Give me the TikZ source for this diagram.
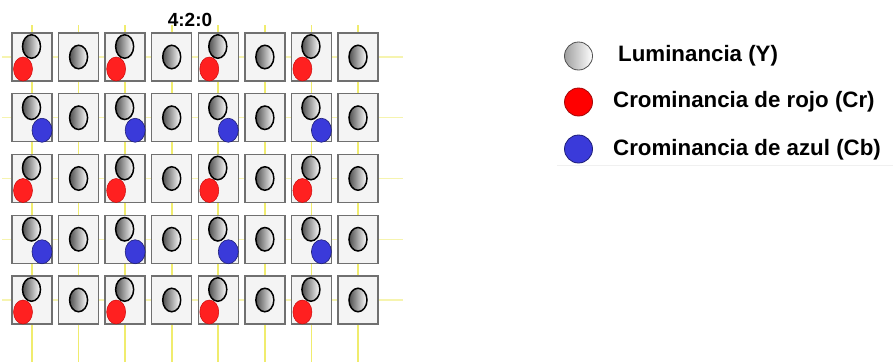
\documentclass[tikz,border=0pt]{standalone}
\usepackage{fontspec}
\setmainfont{Liberation Sans}
\usetikzlibrary{shapes.geometric}
\definecolor{vline}{RGB}{240,236,110}
\definecolor{hline}{RGB}{246,244,175}
\definecolor{boxfill}{RGB}{244,244,244}
\definecolor{boxdraw}{RGB}{112,112,112}
\definecolor{crfill}{RGB}{255,32,32}
\definecolor{crdraw}{RGB}{205,10,10}
\definecolor{cbfill}{RGB}{58,58,218}
\definecolor{cbdraw}{RGB}{30,30,120}
\definecolor{lumdark}{RGB}{80,80,80}
\tikzset{
  cellbox/.style={draw=boxdraw, fill=boxfill, line width=1.4pt, minimum width=40pt, minimum height=48pt, inner sep=0pt},
  lum/.style={ellipse, draw=black, line width=1.5pt, left color=lumdark, right color=white, minimum width=18pt, minimum height=23.5pt, inner sep=0pt},
  crdot/.style={ellipse, draw=crdraw, line width=0.5pt, fill=crfill, minimum width=19pt, minimum height=24pt, inner sep=0pt},
  cbdot/.style={ellipse, draw=cbdraw, line width=0.6pt, fill=cbfill, minimum width=20pt, minimum height=24pt, inner sep=0pt},
  legtext/.style={anchor=base west, inner sep=0pt, font=\bfseries\fontsize{22.3}{26}\selectfont},
  vgrid/.style={draw=vline, line width=1.8pt},
  hgrid/.style={draw=hline, line width=1.3pt}
}
\begin{document}
\begin{tikzpicture}[x=1pt, y=-1pt]
\useasboundingbox (0,0) rectangle (893,362);
% yellow grid lines
\foreach \c in {0,...,7} {
  \draw[vgrid] ({32+46.57*\c},25) -- ({32+46.57*\c},362);
}
\foreach \r in {0,...,4} {
  \draw[hgrid] (2,{57+60.75*\r}) -- (403,{57+60.75*\r});
}
% cells
\foreach \r in {0,...,4} {
  \foreach \c in {0,...,7} {
    \node[cellbox] (box-\r-\c) at ({32+46.57*\c},{57+60.75*\r}) {};
  }
}
% luminance and chroma samples
\foreach \r in {0,...,4} {
  \foreach \c in {1,3,5,7} {
    \node[lum] (y-\r-\c) at (box-\r-\c.center) {};
  }
}
\foreach \r in {0,2,4} {
  \foreach \c in {0,2,4,6} {
    \node[crdot] (cr-\r-\c) at ([xshift=-9pt,yshift=-12pt]box-\r-\c.center) {};
    \node[lum] (y-\r-\c) at ([xshift=-0.5pt,yshift=10.5pt]box-\r-\c.center) {};
  }
}
\foreach \r in {1,3} {
  \foreach \c in {0,2,4,6} {
    \node[lum] (y-\r-\c) at ([xshift=-0.5pt,yshift=10pt]box-\r-\c.center) {};
    \node[cbdot] (cb-\r-\c) at ([xshift=10pt,yshift=-12.5pt]box-\r-\c.center) {};
  }
}
% title
\node[anchor=base, inner sep=0pt, font=\bfseries\fontsize{19}{22}\selectfont] (title) at (190,26) {4:2:0};
% legend
\node[circle, draw=lumdark, line width=0.8pt, left color=gray!75, right color=white, minimum size=28pt, inner sep=0pt] (legY) at (578.5,56) {};
\node[circle, draw=crdraw!80!black, line width=0.8pt, fill=red, minimum size=28pt, inner sep=0pt] (legCr) at (578.5,102) {};
\node[circle, draw=cbdraw, line width=0.8pt, fill=cbfill, minimum size=28pt, inner sep=0pt] (legCb) at (578.5,149) {};
\node[legtext] (txtY) at (618,61) {Luminancia (Y)};
\node[legtext] (txtCr) at (613,107) {Crominancia de rojo (Cr)};
\node[legtext] (txtCb) at (613,155) {Crominancia de azul (Cb)};
\draw[gray!12, line width=0.8pt] (557,165) -- (893,165);
\end{tikzpicture}
\end{document}
